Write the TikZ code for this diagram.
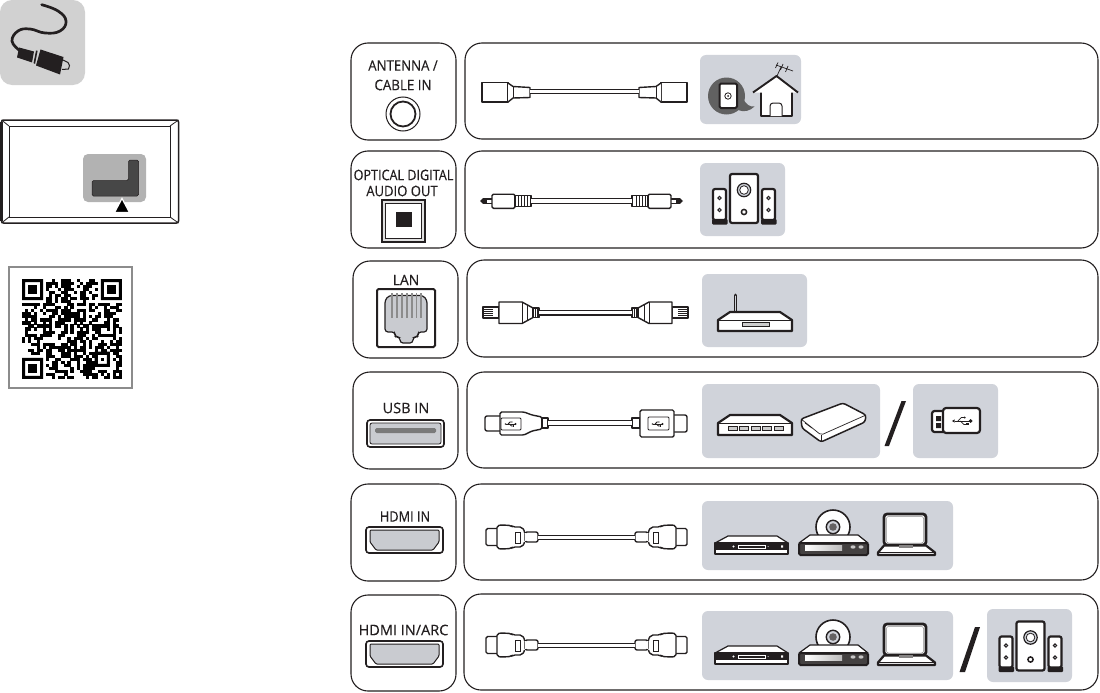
\documentclass[tikz,border=0pt]{standalone}
\usepackage{graphicx}
\usepackage{fontspec}
\setmainfont[FakeBold=0.35]{Open Sans}
\definecolor{panelgray}{HTML}{D0D3DA}
\definecolor{porttint}{HTML}{C9CBD0}
\definecolor{lineink}{HTML}{231F20}
\newcommand{\wlabel}[2]{\scalebox{#1}[1]{#2}}
\tikzset{
  x=1pt,y=-1pt,
  rbox/.style={draw=lineink,line width=1.1pt,rounded corners=17pt,anchor=north west,inner sep=0pt,outer sep=0pt,fill=white},
  devbox/.style={fill=panelgray,rounded corners=6pt,anchor=north west,inner sep=0pt,outer sep=0pt},
  lbl/.style={font=\fontsize{14.5}{15}\selectfont,text=lineink,inner sep=0pt,outer sep=0pt},
  ink/.style={draw=lineink,line width=1.4pt,line join=round},
  thick ink/.style={draw=lineink,line width=2.2pt,line join=round},
  cable/.style={draw=lineink,line width=1.2pt,double=white,double distance=3.2pt},
  coaxend/.pic={
    \draw[ink,fill=white] (0,-9.5) rectangle (26,10);
    \draw[ink,fill=white] (26,-9)--(31,-5.5)--(48,-4.5)--(48,5.5)--(31,6)--(26,10);
    \draw[line width=.7pt,draw=lineink] (31,-5.5)--(31,6);
  },
  optend/.pic={
    \fill[lineink] (0,0)--(3,-2.8)--(7,-2.8)--(7,2.8)--(3,2.8)--cycle;
    \draw[ink,fill=white] (7,-2.2)--(13,-2.2)--(13,2.2)--(7,2.2);
    \draw[ink,fill=white,rounded corners=1.5pt] (12,-6.8) rectangle (35,7.4);
    \draw[ink,fill=white] (35,-5.5) rectangle (51,5.5);
    \foreach \r in {38,41,44,47}{\draw[line width=.9pt,draw=lineink] (\r,-5.5)--(\r,5.5);}
  },
  lanend/.pic={
    \draw[ink,fill=white] (0,-5.5) rectangle (16,5.5);
    \foreach \r in {-3,-1,1,3}{\draw[line width=.6pt,draw=lineink] (1,\r)--(10,\r);}
    \draw[ink,fill=white,line join=round] (16,-10.5)--(39,-10.5)--(50,-4.5)--(50,5)--(39,11)--(16,11)--cycle;
    \draw[line width=.7pt,draw=lineink] (39,-10.5)--(39,11) (44,-7.5)--(44,8);
    \draw[ink,fill=white] (50,-4.5) rectangle (56,5);
    \foreach \r in {52,54}{\draw[line width=.7pt,draw=lineink] (\r,-4.5)--(\r,5);}
  },
  hdmiend/.pic={
    \draw[ink,fill=white,rounded corners=1.5pt] (11,-8.5)--(0,-8.5)--(0,8.5)--(11,8.5);
    \draw[ink,fill=white,rounded corners=2pt] (11,-11.5)--(16,-12)--(25,-11.5)--(27,-10)--(36,-10)--(39,-5)--(39,5)--(36,10)--(27,10)--(25,11.5)--(16,12)--(11,11.5)--cycle;
    \fill[white] (33,-4.5) rectangle (40,4.5);
    \draw[ink,fill=white,rounded corners=2pt] (39,-5) rectangle (52,5);
    \draw[line width=.8pt,draw=lineink,fill=white] (29,-5) rectangle (34,6);
    \fill[white] (39.7,-4.3) rectangle (39,4.3);
  },
  usbsym/.pic={
    \draw[line width=.75pt,draw=lineink] (-10,0)--(8,0);
    \fill[lineink] (9,0) circle (2.3);
    \fill[lineink] (-13,0)--(-10,-1.8)--(-10,1.8)--cycle;
    \draw[line width=.75pt,draw=lineink] (-6,0)--(-2,-4)--(1,-4) (-3,0)--(1,4)--(5,4);
    \fill[lineink] (2,-4) circle (1.3);
    \fill[lineink] (4,2.8) rectangle (6.5,5.2);
  },
  speakers/.pic={
    \fill[lineink,rounded corners=1pt] (712,219) rectangle (727.5,224.5);
    \fill[lineink,rounded corners=1pt] (761,219) rectangle (776.5,224.5);
    \draw[thick ink,fill=white,rounded corners=2pt] (713,189) rectangle (726,220);
    \draw[thick ink,fill=white,rounded corners=2pt] (762,189) rectangle (775,220);
    \draw[thick ink,fill=white,rounded corners=2pt] (730,174) rectangle (758,223);
    \draw[line width=1.2pt,draw=lineink,fill=panelgray] (744,190) circle (6.7);
    \draw[line width=.8pt,draw=lineink,fill=white] (744,190) circle (4.3);
    \draw[line width=1.5pt,draw=lineink,fill=white] (744,212) circle (2.6);
    \foreach \sx in {719.5,768.5}{
      \foreach \sy in {198,210}{\draw[line width=1pt,draw=lineink,fill=panelgray] (\sx,\sy) circle (1.7);}
    }
  },
  avset/.pic={
    % player
    \draw[line width=1.2pt,draw=lineink,fill=white,line join=round] (728,536)--(777,536)--(788,543)--(715,543)--cycle;
    \draw[line width=1.4pt,draw=lineink,fill=lineink,line join=round] (715,543) rectangle (788,554);
    \fill[white] (716,549.5) rectangle (787,553.3);
    \draw[line width=.5pt,draw=white] (738,545.2) rectangle (765,548);
    \fill[white] (733.5,546.5) circle (1.1) (768,546.5) circle (.5) (781,545.3) rectangle (783,547.5);
    % disc player
    \draw[line width=1.6pt,draw=lineink,fill=white] (833,527) circle (17);
    \draw[line width=1.4pt,draw=lineink,fill=panelgray] (833,527) circle (6.7);
    \fill[lineink!70] (833,527) circle (3.8);
    \draw[line width=1.2pt,draw=lineink,fill=white,line join=round] (810,535)--(858,535)--(868,543)--(799,543)--cycle;
    \draw[line width=2pt,draw=lineink,fill=lineink!85,rounded corners=1.5pt] (799,543) rectangle (868,555);
    \fill[left color=white,right color=lineink!30] (805,545) rectangle (842,550);
    \fill[lineink!25] (853,547) ellipse (2.5 and 1.7) (861,547) ellipse (2.5 and 1.7);
    % laptop
    \draw[line width=2.7pt,draw=lineink,fill=white,rounded corners=3pt] (884,514) rectangle (926,545);
    \draw[line width=.5pt,draw=black!45,rounded corners=2pt] (886.5,516.5) rectangle (923.5,543);
    \draw[line width=2.2pt,draw=lineink,fill=white,line join=round] (884,545.5)--(878,552.5)--(878,555)--(935,555)--(935,552.5)--(926,545.5)--cycle;
    \draw[line width=.7pt,draw=lineink] (878,552)--(935,552);
    \fill[lineink!55] (899,545) rectangle (913,548);
  },
}
\begin{document}
\begin{tikzpicture}
\useasboundingbox (0,0) rectangle (1100,693);
% ---------- left column
\node[fill=black!18,rounded corners=12pt,anchor=north west,minimum width=85pt,minimum height=85pt,inner sep=0pt,outer sep=0pt] (plugtile) at (0,0) {};
\draw[line width=2.7pt,draw=lineink,line cap=round] plot[smooth,tension=.75] coordinates {(41.7,4.7) (58,11) (66,21) (60,31) (45,33) (30,29) (18,31) (12,41) (19,50)};
\fill[lineink] (19,47.5)--(34,51.5)--(32,62.5)--(17,57.5)--cycle;
\fill[lineink] (36,50.5)--(37.6,50.8)--(35.1,63.8)--(33.5,63.3)--cycle;
\fill[lineink] (40.5,49.5)--(63.5,57)--(60,74.5)--(36,65.5)--cycle;
\draw[line width=1pt,draw=lineink] (63,60)--(68,62.5)--(69.5,65.5)--(68.5,69)--(62,69.5);
% TV
\node[draw=lineink,line width=1.5pt,rounded corners=2pt,anchor=north west,minimum width=177pt,minimum height=103pt,inner sep=0pt,outer sep=0pt] (tvframe) at (1.5,120) {};
\node[draw=lineink,line width=.9pt,anchor=north west,minimum width=161pt,minimum height=91pt,inner sep=0pt,outer sep=0pt] (tvscreen) at (9,126) {};
\draw[line width=.8pt,draw=lineink] (tvframe.north west)--(tvscreen.north west) (tvframe.north east)--(tvscreen.north east) (tvframe.south west)--(tvscreen.south west) (tvframe.south east)--(tvscreen.south east);
\draw[line width=2.4pt,draw=lineink] (1.5,122)--(1.5,221);
\node[fill=black!30,rounded corners=5pt,anchor=north west,minimum width=63pt,minimum height=48pt,inner sep=0pt,outer sep=0pt] (tvpanel) at (83,154) {};
\draw[draw=lineink,line width=.5pt,fill=black!72,rounded corners=1.5pt] (92,180.5)--(128.5,180.5)--(128.5,160)--(138.5,160)--(138.5,196)--(92,196)--cycle;
\draw[draw=white,line width=1.2pt,fill=black] (122,198.5)--(114.5,212.5)--(129.5,212.5)--cycle;
% QR
\node[draw=black!45,line width=2pt,fill=white,anchor=north west,minimum width=123pt,minimum height=121pt,inner sep=0pt,outer sep=0pt] (qrframe) at (9,267) {};
\begin{scope}[shift={(22,279)},x=3.03pt,y=-3.03pt]
  \pgfmathsetseed{11}
  \foreach \qc in {0,...,32}{
    \foreach \qr in {0,...,32}{
      \pgfmathtruncatemacro\qb{(rnd<0.52) && !(\qc<8 && \qr<8) && !(\qc>24 && \qr<8) && !(\qc<8 && \qr>24) && !(\qc>23 && \qr>23 && \qc<30 && \qr<30) ? 1 : 0}
      \ifnum\qb=1 \fill[black] (\qc,\qr) rectangle +(1.03,1.03);\fi
    }
  }
  \foreach \fx/\fy in {0/0,26/0,0/26}{
    \fill[black,even odd rule] (\fx,\fy) rectangle +(7,7) (\fx+1,\fy+1) rectangle +(5,5);
    \fill[black] (\fx+2,\fy+2) rectangle +(3,3);
  }
  \fill[black,even odd rule] (24,24) rectangle +(5,5) (25,25) rectangle +(3,3);
  \fill[black] (26,26) rectangle +(1,1);
\end{scope}
% ---------- port boxes and panels
\node[rbox,minimum width=105pt,minimum height=97pt] (portA) at (351,43) {};
\node[rbox,minimum width=633pt,minimum height=96pt] (rowA) at (465,43) {};
\node[rbox,minimum width=105pt,minimum height=97pt] (portB) at (351,151) {};
\node[rbox,minimum width=633pt,minimum height=97pt] (rowB) at (465,151) {};
\node[rbox,minimum width=105pt,minimum height=97pt] (portC) at (353,261) {};
\node[rbox,minimum width=631pt,minimum height=97pt] (rowC) at (467,260) {};
\node[rbox,minimum width=105pt,minimum height=97pt] (portD) at (353,372) {};
\node[rbox,minimum width=631pt,minimum height=96pt] (rowD) at (467,372) {};
\node[rbox,minimum width=105pt,minimum height=97pt] (portE) at (351,484) {};
\node[rbox,minimum width=634pt,minimum height=96pt] (rowE) at (464,484) {};
\node[rbox,minimum width=105pt,minimum height=96pt] (portF) at (351,595) {};
\node[rbox,minimum width=634pt,minimum height=96pt] (rowF) at (464,594) {};
% labels
\node[lbl] (tA1) at (403,65.5) {\wlabel{.91}{ANTENNA /}};
\node[lbl] (tA2) at (403,85) {\wlabel{.92}{CABLE IN}};
\node[lbl] (tB1) at (403.5,175) {\wlabel{.87}{OPTICAL DIGITAL}};
\node[lbl] (tB2) at (402,191) {\wlabel{.9}{AUDIO OUT}};
\node[lbl] (tC) at (406,280) {\wlabel{.96}{LAN}};
\node[lbl] (tD) at (406,408) {USB IN};
\node[lbl] (tE) at (405,516.5) {\wlabel{.88}{HDMI IN}};
\node[lbl] (tF) at (403.5,630) {HDMI IN/ARC};
% port A
\node[circle,draw=lineink,line width=1pt,minimum size=34pt,inner sep=0pt] (coaxout) at (403,114) {};
\node[circle,draw=lineink,line width=1.8pt,minimum size=25pt,inner sep=0pt] (coaxin) at (403,114) {};
% port B
\draw[draw=lineink,line width=1.6pt,fill=black!12] (382,200) rectangle (425,242);
\draw[draw=lineink,line width=.7pt,fill=white] (385.5,203.5) rectangle (421.5,238.5);
\fill[lineink] (396,212) rectangle (412,227);
% port C
\draw[draw=lineink,line width=2pt,rounded corners=1.5pt,fill=white] (377,289) rectangle (435,347);
\draw[draw=lineink,line width=1.2pt,fill=porttint,rounded corners=3pt] (385,300)--(389,295.5)--(423,295.5)--(427,300)--(427,332)--(418,332)--(418,337)--(413,337)--(413,343)--(400,343)--(400,337)--(395,337)--(395,332)--(385,332)--cycle;
\foreach \px in {392,397,402,407,412,416.5,421}{\draw[draw=black!45,line width=1.5pt] (\px,293)--(\px,318);}
% port D
\draw[draw=lineink,line width=1.6pt,rounded corners=3pt,fill=white] (367,420) rectangle (444,447);
\draw[draw=lineink,line width=.8pt,rounded corners=2pt,fill=porttint] (370,423) rectangle (441,444);
\fill[black!52,rounded corners=1.5pt] (375,428) rectangle (436,433);
% port E, F
\foreach \hy/\hn in {0/E,114/F}{
  \draw[draw=lineink,line width=1.6pt,rounded corners=3pt,fill=white] (366,527+\hy) rectangle (443,553+\hy);
  \draw[draw=lineink,line width=1pt,rounded corners=1pt,fill=porttint] (370,530+\hy)--(439,530+\hy)--(439,542+\hy)--(433,550+\hy)--(376,550+\hy)--(370,542+\hy)--cycle;
}
% ---------- cables
\pic at (482,92) {coaxend};
\pic[xscale=-1] at (687,92) {coaxend};
\coordinate (ca1) at (530,91.5); \coordinate (ca2) at (639,91.5);
\draw[cable] (ca1)--(ca2);
\pic at (480,201) {optend};
\pic[xscale=-1] at (683,201) {optend};
\coordinate (cb1) at (531,201); \coordinate (cb2) at (632,201);
\draw[cable] (cb1)--(cb2);
\pic at (483,312.5) {lanend};
\pic[xscale=-1] at (688,312.5) {lanend};
\coordinate (cc1) at (539,312.7); \coordinate (cc2) at (632,312.7);
\draw[cable] (cc1)--(cc2);
% USB cable left
\draw[ink,fill=white,rounded corners=2pt] (500,416)--(485,416)--(485,431)--(500,431);
\draw[ink,fill=white,rounded corners=1.5pt] (500,412)--(524,412)--(532,415)--(542,417)--(542,429)--(532,431)--(524,435)--(500,435)--cycle;
\draw[ink,fill=white] (542,418) rectangle (548,428);
\draw[draw=lineink,line width=.9pt,fill=white,rounded corners=1pt] (501,418) rectangle (521,430);
\pic[scale=.5] at (511,424) {usbsym};
% USB cable right
\draw[ink,fill=white] (632,418) rectangle (640,428);
\draw[ink,fill=white,rounded corners=2pt] (674,415)--(687,415)--(687,432)--(674,432);
\draw[ink,fill=white,rounded corners=1.5pt] (640,410) rectangle (674,437);
\draw[draw=lineink,line width=.9pt,fill=white,rounded corners=1pt] (648,417) rectangle (669,430);
\pic[scale=.5,xscale=1] at (658,424) {usbsym};
\coordinate (cd1) at (548,423); \coordinate (cd2) at (632,423);
\draw[cable] (cd1)--(cd2);
% HDMI cables
\pic at (486,537) {hdmiend};
\pic[xscale=-1] at (687,537) {hdmiend};
\coordinate (ce1) at (538,537.5); \coordinate (ce2) at (635,537.5);
\draw[cable] (ce1)--(ce2);
\pic at (486,645) {hdmiend};
\pic[xscale=-1] at (687,645) {hdmiend};
\coordinate (cf1) at (538,645.5); \coordinate (cf2) at (635,645.5);
\draw[cable] (cf1)--(cf2);
% ---------- device panels
\node[devbox,minimum width=101pt,minimum height=69pt] (devA) at (700,55) {};
\node[devbox,minimum width=85pt,minimum height=73pt] (devB) at (700,163) {};
\node[devbox,minimum width=105pt,minimum height=73pt] (devC) at (702,274) {};
\node[devbox,minimum width=178pt,minimum height=74pt] (devD) at (702,384) {};
\node[devbox,minimum width=85pt,minimum height=74pt] (devD2) at (913,384) {};
\node[devbox,minimum width=251pt,minimum height=69pt] (devE) at (702,501) {};
\node[devbox,minimum width=251pt,minimum height=69pt] (devF) at (702,611) {};
\node[devbox,minimum width=85pt,minimum height=73pt] (devF2) at (987,609) {};
% slashes
\fill[lineink] (901.5,401)--(906,401)--(889,446)--(884.5,446)--cycle;
\fill[lineink] (975,627)--(980,627)--(965,672)--(959.5,672)--cycle;
% antenna / house
\fill[black!62] (726.5,96) circle (18.5);
\fill[black!62] (738,110)..controls (744,112.5) and (750,111) ..(754.5,106.5)..controls (750,107) and (746,105)..(743,98)--cycle;
\draw[draw=lineink,line width=2pt,fill=white,rounded corners=1.5pt] (719.5,83.5) rectangle (737,108);
\draw[line width=.8pt,draw=lineink] (728,96) circle (3.2);
\fill[lineink] (728,96) circle (1);
\draw[draw=lineink,line width=1.9pt,line join=round,fill=white] (761,87)--(761,116)--(792,116)--(792,87);
\draw[draw=lineink,line width=1.9pt,line join=round,fill=white] (753,92.5)--(776.5,76)--(798,92.5);
\draw[draw=lineink,line width=1pt,fill=white,rounded corners=3pt] (770,116)--(770,103)--(782,103)--(782,116);
\draw[draw=lineink,line width=.7pt] (777,76)--(781,67) (776,65)--(793,71) (778,62.5)--(775.5,68) (783,64)--(780.5,70) (788,66)--(785.5,72);
% speakers
\pic at (0,0) {speakers};
\pic at (286.5,447.5) {speakers};
% router
\draw[draw=lineink,line width=3pt,line cap=round] (735,295)--(735,312);
\draw[draw=panelgray,line width=.9pt,line cap=round] (735,296)--(735,311);
\draw[thick ink,fill=white] (718,320)--(730,312)--(780,312)--(792,320)--(792,331)--(718,331)--cycle;
\draw[line width=.7pt,draw=lineink] (718,320)--(792,320);
\draw[draw=lineink,line width=.8pt,fill=black!20] (742,322) rectangle (769,326);
% hub
\draw[thick ink,fill=white] (718,423)--(730,415)--(780,415)--(792,423)--(792,435)--(718,435)--cycle;
\draw[line width=.7pt,draw=lineink] (718,423)--(792,423);
\foreach \hx in {728,739.5,751,762.5,774}{\draw[draw=lineink,line width=.8pt,fill=black!20] (\hx,426) rectangle +(9,4);}
% HDD
\draw[draw=lineink,line width=1.5pt,fill=white,rounded corners=2.5pt,line join=round] (801,419)--(843,403)--(866,415)--(865,422)--(821,442)--(802,428)--cycle;
\draw[draw=lineink,line width=.7pt,rounded corners=2pt] (801,419)--(821,435)--(866,415);
\draw[draw=lineink,line width=.7pt] (821,435)--(821,442);
\draw[draw=lineink,line width=.7pt] (805,423)--(812,428);
% USB stick
\draw[thick ink,fill=white,rounded corners=2.5pt] (943,411)--(932,411)--(932,432)--(943,432);
\fill[lineink] (936,416) rectangle (941,421) (936,423) rectangle (941,428);
\draw[thick ink,fill=white,rounded corners=3pt] (943,408) rectangle (980,433);
\pic[scale=.85] at (963,421) {usbsym};
% AV sets
\pic at (0,0) {avset};
\pic at (0,110) {avset};
\end{tikzpicture}
\end{document}
